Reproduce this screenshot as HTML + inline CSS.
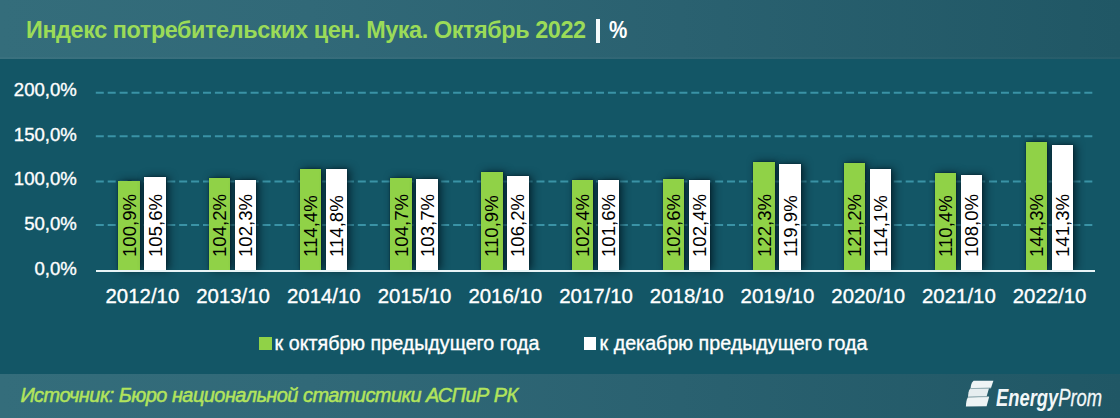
<!DOCTYPE html>
<html><head><meta charset="utf-8">
<style>
html,body{margin:0;padding:0}
body{width:1120px;height:418px;position:relative;overflow:hidden;background:#135666;font-family:"Liberation Sans",sans-serif}
.hdr{position:absolute;left:0;top:0;width:1120px;height:59px;background:linear-gradient(90deg,rgb(52,109,123) 0px,rgb(49,105,120) 310px,rgb(42,97,112) 680px,rgb(32,87,101) 1120px);box-shadow:inset 0 -2px 1px rgba(255,255,255,0.035)}
.ftr{position:absolute;left:0;top:373.8px;width:1120px;height:45px;background:linear-gradient(90deg,rgb(52,109,123) 0px,rgb(49,105,120) 310px,rgb(42,97,112) 680px,rgb(32,87,101) 1120px)}
.title{position:absolute;left:26px;top:15.2px;font-weight:bold;font-size:23.4px;line-height:30px;letter-spacing:-0.41px;color:#9bdb58;white-space:nowrap}
.bar1{position:absolute;left:596px;top:18.6px;width:4px;height:24.6px;background:#f4fafb}
.pct{position:absolute;left:609.2px;top:15.2px;transform-origin:0 0;transform:scaleX(0.88);font-weight:bold;font-size:23.4px;line-height:30px;color:#fff;white-space:nowrap}
.plot{position:absolute;left:0;top:0}
.axis{position:absolute;left:95.8px;top:269.8px;width:999.4px;height:2px;background:#e8f4f6}
.ylab{position:absolute;-webkit-text-stroke:0.35px #fff;left:0;width:76.9px;text-align:right;font-size:18.6px;line-height:0;color:#ffffff;white-space:nowrap}
.xlab{position:absolute;top:285.8px;-webkit-text-stroke:0.35px #fff;width:120px;text-align:center;font-size:20.4px;line-height:20px;color:#ffffff;white-space:nowrap}
.bar{position:absolute;width:21.4px;box-shadow:3px 0 8px rgba(0,20,30,0.75),0 0 2px rgba(0,20,30,0.6)}
.bar.g{background:#90d247}
.bar.w{background:#ffffff}
.vl{position:absolute;top:257.2px;font-size:18.6px;line-height:21.4px;color:#000;transform-origin:0 0;transform:rotate(-90deg);width:70px;height:21.4px;white-space:nowrap}
.leg{position:absolute;-webkit-text-stroke:0.35px #fff;top:333px;font-size:19.7px;line-height:20px;color:#fff;white-space:nowrap}
.sq{position:absolute;width:12.6px;height:12.6px}
.src{position:absolute;left:20.4px;top:385.2px;-webkit-text-stroke:0.5px #b2e45c;font-style:italic;font-size:19.9px;letter-spacing:-0.5px;line-height:20px;color:#b2e45c;white-space:nowrap}
.logo{position:absolute;left:995.5px;top:386px;font-style:italic;font-size:24px;line-height:24px;color:#f2f7f8;white-space:nowrap;transform-origin:0 0;transform:scaleX(0.765)}
</style></head><body>
<div class="hdr"></div>
<div class="ftr"></div>
<div class="title">Индекс потребительских цен. Мука. Октябрь 2022</div>
<div class="bar1"></div>
<div class="pct">%</div>
<svg class="plot" width="1120" height="418" viewBox="0 0 1120 418"><line x1="95.8" y1="92.85" x2="1095" y2="92.85" stroke="#3a93a6" stroke-width="2" stroke-dasharray="8 3.91"/><line x1="95.8" y1="136.20" x2="1095" y2="136.20" stroke="#3a93a6" stroke-width="2" stroke-dasharray="8 3.91"/><line x1="95.8" y1="181.60" x2="1095" y2="181.60" stroke="#3a93a6" stroke-width="2" stroke-dasharray="8 3.91"/><line x1="95.8" y1="225.10" x2="1095" y2="225.10" stroke="#3a93a6" stroke-width="2" stroke-dasharray="8 3.91"/></svg><div class="ylab" style="top:90.25px">200,0%</div><div class="ylab" style="top:135.30px">150,0%</div><div class="ylab" style="top:179.30px">100,0%</div><div class="ylab" style="top:224.20px">50,0%</div><div class="ylab" style="top:269.35px">0,0%</div><div class="xlab" style="left:82.40px">2012/10</div><div class="xlab" style="left:173.12px">2013/10</div><div class="xlab" style="left:263.84px">2014/10</div><div class="xlab" style="left:354.56px">2015/10</div><div class="xlab" style="left:445.28px">2016/10</div><div class="xlab" style="left:536.00px">2017/10</div><div class="xlab" style="left:626.72px">2018/10</div><div class="xlab" style="left:717.44px">2019/10</div><div class="xlab" style="left:808.16px">2020/10</div><div class="xlab" style="left:898.88px">2021/10</div><div class="xlab" style="left:989.60px">2022/10</div>
<div class="bar g" style="left:118.30px;top:181.00px;height:89.00px"></div><div class="bar w" style="left:144.30px;top:176.82px;height:93.18px"></div><div class="vl" style="left:118.50px">100,9%</div><div class="vl" style="left:144.50px">105,6%</div><div class="bar g" style="left:209.02px;top:178.06px;height:91.94px"></div><div class="bar w" style="left:235.02px;top:179.75px;height:90.25px"></div><div class="vl" style="left:209.22px">104,2%</div><div class="vl" style="left:235.22px">102,3%</div><div class="bar g" style="left:299.74px;top:168.98px;height:101.02px"></div><div class="bar w" style="left:325.74px;top:168.63px;height:101.37px"></div><div class="vl" style="left:299.94px">114,4%</div><div class="vl" style="left:325.94px">114,8%</div><div class="bar g" style="left:390.46px;top:177.62px;height:92.38px"></div><div class="bar w" style="left:416.46px;top:178.51px;height:91.49px"></div><div class="vl" style="left:390.66px">104,7%</div><div class="vl" style="left:416.66px">103,7%</div><div class="bar g" style="left:481.18px;top:172.10px;height:97.90px"></div><div class="bar w" style="left:507.18px;top:176.28px;height:93.72px"></div><div class="vl" style="left:481.38px">110,9%</div><div class="vl" style="left:507.38px">106,2%</div><div class="bar g" style="left:571.90px;top:179.66px;height:90.34px"></div><div class="bar w" style="left:597.90px;top:180.38px;height:89.62px"></div><div class="vl" style="left:572.10px">102,4%</div><div class="vl" style="left:598.10px">101,6%</div><div class="bar g" style="left:662.62px;top:179.49px;height:90.51px"></div><div class="bar w" style="left:688.62px;top:179.66px;height:90.34px"></div><div class="vl" style="left:662.82px">102,6%</div><div class="vl" style="left:688.82px">102,4%</div><div class="bar g" style="left:753.34px;top:161.95px;height:108.05px"></div><div class="bar w" style="left:779.34px;top:164.09px;height:105.91px"></div><div class="vl" style="left:753.54px">122,3%</div><div class="vl" style="left:779.54px">119,9%</div><div class="bar g" style="left:844.06px;top:162.93px;height:107.07px"></div><div class="bar w" style="left:870.06px;top:169.25px;height:100.75px"></div><div class="vl" style="left:844.26px">121,2%</div><div class="vl" style="left:870.26px">114,1%</div><div class="bar g" style="left:934.78px;top:172.54px;height:97.46px"></div><div class="bar w" style="left:960.78px;top:174.68px;height:95.32px"></div><div class="vl" style="left:934.98px">110,4%</div><div class="vl" style="left:960.98px">108,0%</div><div class="bar g" style="left:1025.50px;top:142.37px;height:127.63px"></div><div class="bar w" style="left:1051.50px;top:145.04px;height:124.96px"></div><div class="vl" style="left:1025.70px">144,3%</div><div class="vl" style="left:1051.70px">141,3%</div>
<div class="axis"></div>
<div class="sq" style="left:259.4px;top:337.3px;background:#90d247"></div>
<div class="leg" style="left:274.6px">к октябрю предыдущего года</div>
<div class="sq" style="left:583.7px;top:337.3px;background:#ffffff"></div>
<div class="leg" style="left:599.6px">к декабрю предыдущего года</div>
<div class="src">Источник: Бюро национальной статистики АСПиР РК</div>
<svg style="position:absolute;left:962px;top:377px" width="36" height="34" viewBox="0 0 36 34">
<path d="M11.6,3.8 L31.4,3.7 L29,10.9 L8.6,11.6 C8.6,8.2 9.6,5.6 11.6,3.8 Z" fill="#eef4f5"/>
<path d="M8.2,11.6 L27,11.3 L24.6,19.4 L6,19.9 C6.2,16.6 6.6,13.6 8.2,11.6 Z" fill="#e6eef0"/>
<path d="M5.9,20.2 L27.2,19.8 L24.6,29.3 L3.9,29.6 C4,26.2 4.4,22.6 5.9,20.2 Z" fill="#eef4f5"/>
<path d="M8.6,11.6 L29,11" stroke="#8fa9af" stroke-width="0.9" fill="none"/>
<path d="M6,20 L26.8,19.6" stroke="#8fa9af" stroke-width="0.9" fill="none"/>
</svg>
<div class="logo"><b>Energy</b><span style="-webkit-text-stroke:0.3px #f2f7f8">Prom</span></div>
</body></html>
